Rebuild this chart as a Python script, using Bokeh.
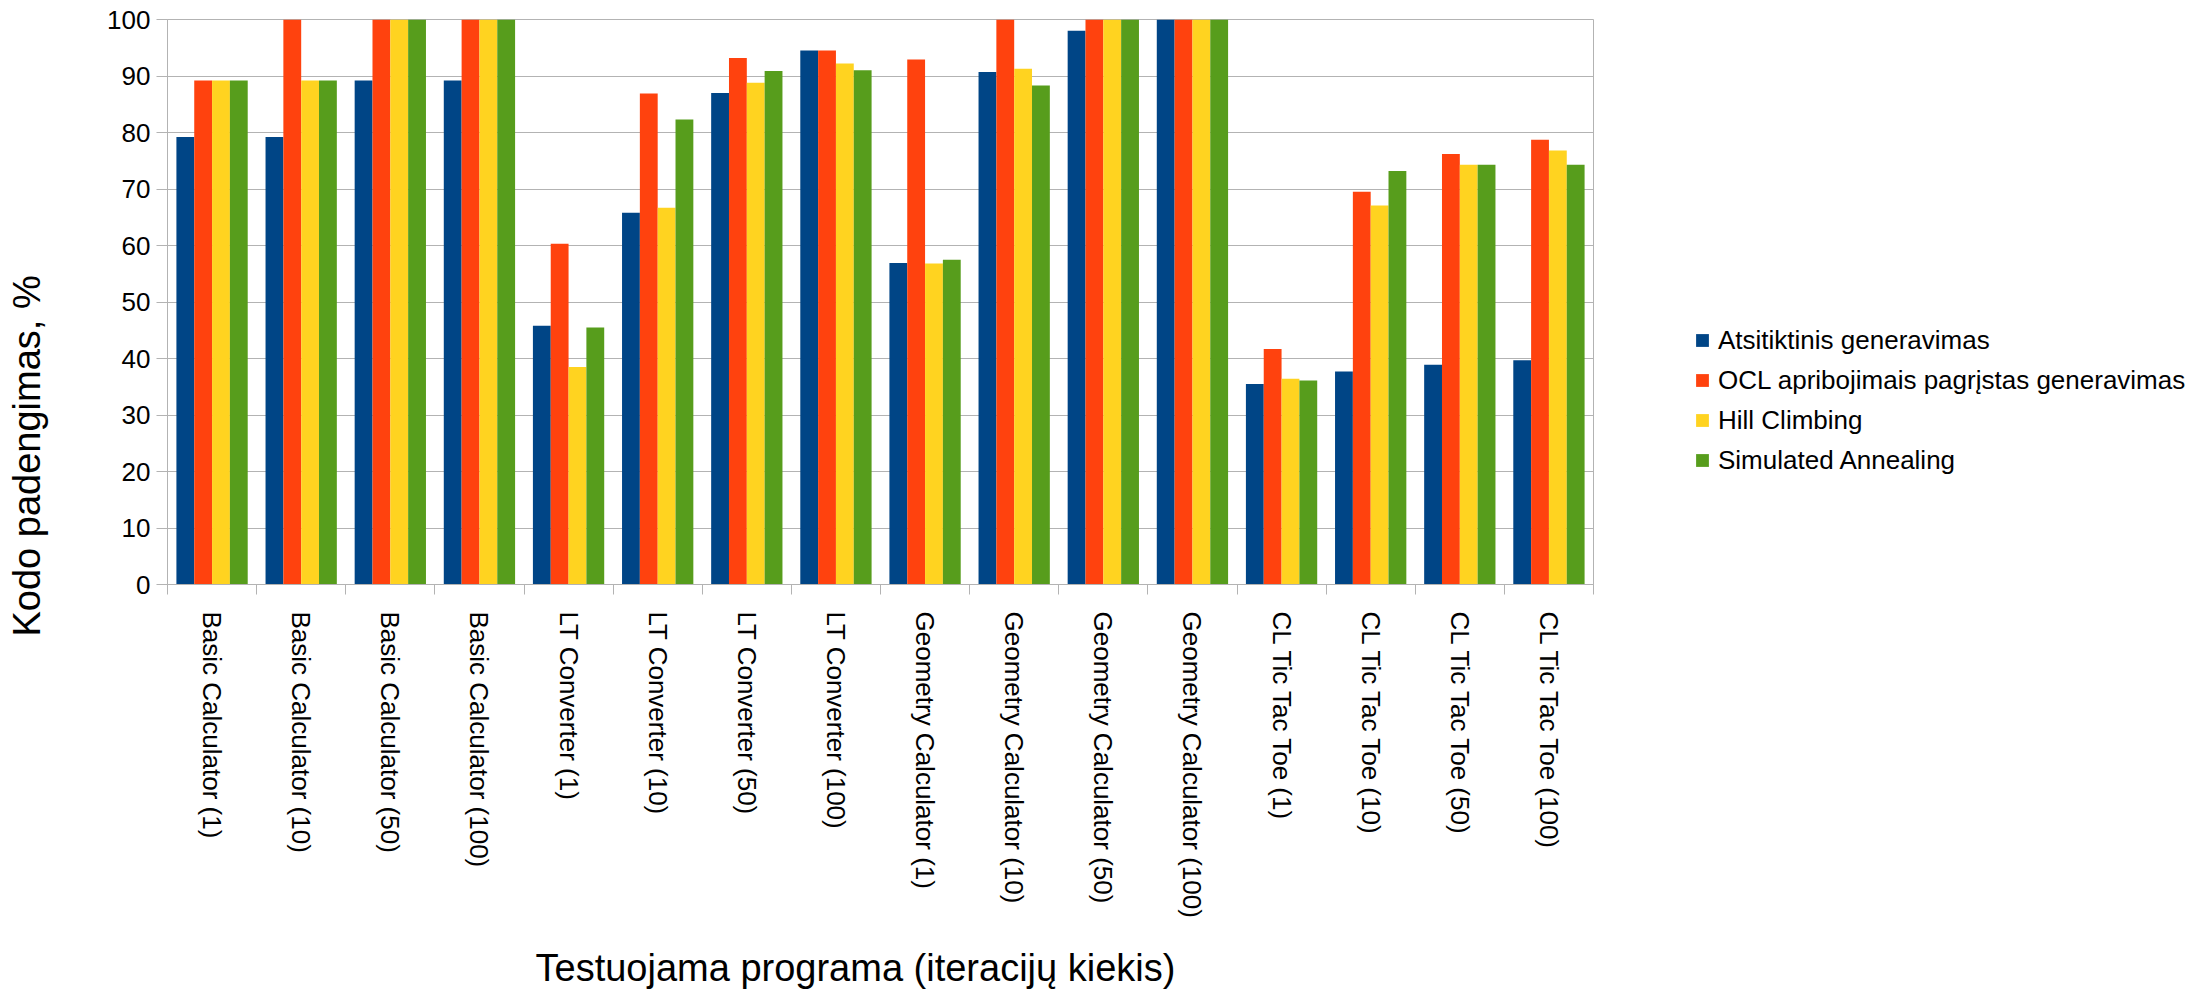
import numpy as np
from bokeh.plotting import figure
from bokeh.layouts import row
from bokeh.models import (ColumnDataSource, Range1d, FixedTicker, Legend, LegendItem, Title)
from bokeh.transform import dodge
from bokeh.embed import file_html
from bokeh.resources import INLINE

categories = ["Basic Calculator (1)", "Basic Calculator (10)", "Basic Calculator (50)", "Basic Calculator (100)",
              "LT Converter (1)", "LT Converter (10)", "LT Converter (50)", "LT Converter (100)",
              "Geometry Calculator (1)", "Geometry Calculator (10)", "Geometry Calculator (50)", "Geometry Calculator (100)",
              "CL Tic Tac Toe (1)", "CL Tic Tac Toe (10)", "CL Tic Tac Toe (50)", "CL Tic Tac Toe (100)"]

series_names = ["Atsitiktinis generavimas", "OCL apribojimais pagrįstas generavimas",
                "Hill Climbing", "Simulated Annealing"]

atsitiktinis = [79.2, 79.2, 89.2, 89.2, 45.8, 65.8, 87.0, 94.5, 56.9, 90.7, 98.0, 100, 35.5, 37.7, 38.9, 39.7]
ocl = [89.2, 100, 100, 100, 60.3, 86.9, 93.2, 94.5, 92.9, 100, 100, 100, 41.7, 69.5, 76.2, 78.7]
hill = [89.2, 89.2, 100, 100, 38.5, 66.7, 88.8, 92.2, 56.8, 91.3, 100, 100, 36.4, 67.1, 74.3, 76.8]
annealing = [89.2, 89.2, 100, 100, 45.5, 82.3, 90.9, 91.0, 57.5, 88.3, 100, 100, 36.1, 73.2, 74.3, 74.3]

y_ticks = list(range(0, 101, 10))

colors = ["#004586", "#ff420e", "#ffd320", "#579d1c"]
FONT = "Liberation Sans"
GRID = "#b3b3b3"

n = len(categories)
centers = [i + 0.5 for i in range(n)]
bounds = list(range(n + 1))

source = ColumnDataSource(dict(x=centers, a=atsitiktinis, o=ocl, h=hill, s=annealing))
cols = ["a", "o", "h", "s"]
offsets = [-0.3, -0.1, 0.1, 0.3]

# ---------------- main chart ----------------
p = figure(width=1594, height=990, x_range=Range1d(0, n), y_range=Range1d(0, 100),
           output_backend="svg", toolbar_location=None,
           min_border_left=167, min_border_right=1, min_border_top=19, min_border_bottom=405)
p.background_fill_color = "white"
p.border_fill_color = "white"
p.outline_line_color = GRID
p.outline_line_width = 1

for col, off, c in zip(cols, offsets, colors):
    p.vbar(x=dodge("x", off, range=p.x_range), top=col, width=0.2, bottom=0,
           source=source, fill_color=c, line_color=None)

p.xgrid.visible = False
p.ygrid.grid_line_color = GRID
p.ygrid.grid_line_width = 1
p.ygrid.ticker = FixedTicker(ticks=y_ticks)

ya = p.yaxis[0]
ya.ticker = FixedTicker(ticks=y_ticks)
ya.axis_line_color = GRID
ya.major_tick_line_color = GRID
ya.major_tick_out = 11
ya.major_tick_in = 0
ya.minor_tick_line_color = None
ya.major_label_standoff = 6
ya.major_label_text_font = FONT
ya.major_label_text_font_size = "26px"
ya.major_label_text_color = "black"
ya.axis_label = " "
ya.axis_label_standoff = 12
ya.axis_label_text_font_size = "37px"

xa = p.xaxis[0]
xa.ticker = FixedTicker(ticks=centers, minor_ticks=bounds)
xa.major_label_overrides = {c: lab for c, lab in zip(centers, categories)}
xa.axis_line_color = GRID
xa.major_tick_line_color = None
xa.major_tick_out = 0
xa.major_tick_in = 0
xa.minor_tick_line_color = GRID
xa.minor_tick_out = 10
xa.minor_tick_in = 0
xa.major_label_standoff = 17
xa.major_label_orientation = "vertical"
xa.major_label_text_font = FONT
xa.major_label_text_font_size = "26px"
xa.major_label_text_color = "black"
xa.axis_label = " "
xa.axis_label_standoff = 3
xa.axis_label_text_font_size = "16px"

yt = Title(text="Kodo padengimas, %", align="left", offset=-52,
           text_font=FONT, text_font_size="38px", text_font_style="normal", text_color="black")
yt.standoff = 2
p.add_layout(yt, "left")

xt = Title(text="Testuojama programa (iteracijų kiekis)", align="left", offset=368,
           text_font=FONT, text_font_size="38px", text_font_style="normal", text_color="black")
xt.standoff = 3
p.add_layout(xt, "below")

# ---------------- legend panel ----------------
p2 = figure(width=594, height=990, x_range=Range1d(-10, -9), y_range=Range1d(0, 100),
            output_backend="svg", toolbar_location=None,
            x_axis_location=None, y_axis_location=None, min_border=0)
p2.outline_line_color = None
p2.background_fill_color = "white"
p2.border_fill_color = "white"
p2.xgrid.visible = False
p2.ygrid.visible = False

leg_renderers = []
for col, off, c in zip(cols, offsets, colors):
    r = p2.vbar(x=dodge("x", off, range=p2.x_range), top=col, width=0.2, bottom=0,
                source=source, fill_color=c, line_color=None)
    leg_renderers.append(r)

items = [LegendItem(label=nm, renderers=[r]) for nm, r in zip(series_names, leg_renderers)]
legend = Legend(items=items, location=(100, 108), orientation="vertical",
                padding=0, margin=0, spacing=8,
                glyph_width=16, glyph_height=16, label_height=32, label_standoff=8,
                label_text_font=FONT, label_text_font_size="26px", label_text_color="black",
                border_line_color=None, background_fill_alpha=0)
p2.add_layout(legend, "center")

open("out.html", "w").write(file_html(row(p, p2), INLINE))
